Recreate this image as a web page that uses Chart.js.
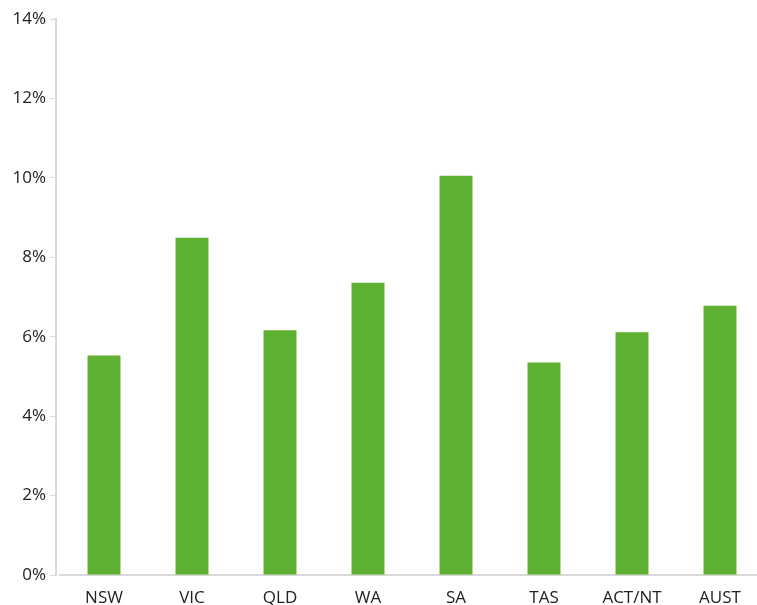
<!DOCTYPE html>
<html>
<head>
<meta charset="utf-8">
<script src="https://cdn.jsdelivr.net/npm/chart.js@4"></script>
<style>
  body { margin: 0; background: #fff; }
  #wrap { width: 757px; height: 605px; }
</style>
</head>
<body>
<div id="wrap"><canvas id="chart"></canvas></div>
<script>
// Chart data
const categories = ["NSW", "VIC", "QLD", "WA", "SA", "TAS", "ACT/NT", "AUST"];
const values = [5.53, 8.49, 6.16, 7.36, 10.05, 5.35, 6.11, 6.78];
const yTicks = [0, 2, 4, 6, 8, 10, 12, 14];

// nudge the category band a little to the right, like the original
const shiftCategories = {
    id: "shiftCategories",
    afterLayout(chart) {
        const x = chart.scales.x;
        x.left += 4;
        x.right += 7;
        x.width = x.right - x.left;
        x.configure();
    }
};

const ctx = document.getElementById("chart");
new Chart(ctx, {
    type: "bar",
    data: {
        labels: categories,
        datasets: [{
            data: values,
            backgroundColor: "#5eb133",
            borderWidth: 0,
            categoryPercentage: 1,
            barPercentage: 0.375,
        }]
    },
    options: {
        responsive: true,
        maintainAspectRatio: false,
        animation: false,
        layout: { padding: { top: 19, right: 0, bottom: 0, left: 0 } },
        plugins: { legend: { display: false }, tooltip: { enabled: false } },
        scales: {
            x: {
                afterFit: (axis) => { axis.height = 30; },
                grid: { display: false },
                border: { display: true, color: "#d9d9d9", width: 2 },
                ticks: { color: "#222", font: { family: "Open Sans", size: 17 }, padding: 5 }
            },
            y: {
                min: 0,
                max: 14,
                afterFit: (axis) => { axis.width = 56; },
                afterBuildTicks: (axis) => { axis.ticks = yTicks.map(v => ({ value: v })); },
                grid: { drawOnChartArea: false, tickLength: 6, color: "#d9d9d9" },
                border: { display: true, color: "#d9d9d9", width: 2 },
                ticks: {
                    color: "#222",
                    font: { family: "Open Sans", size: 17 },
                    padding: 4,
                    callback: (v) => v + "%"
                }
            }
        }
    },
    plugins: [shiftCategories]
});
</script>
</body>
</html>
